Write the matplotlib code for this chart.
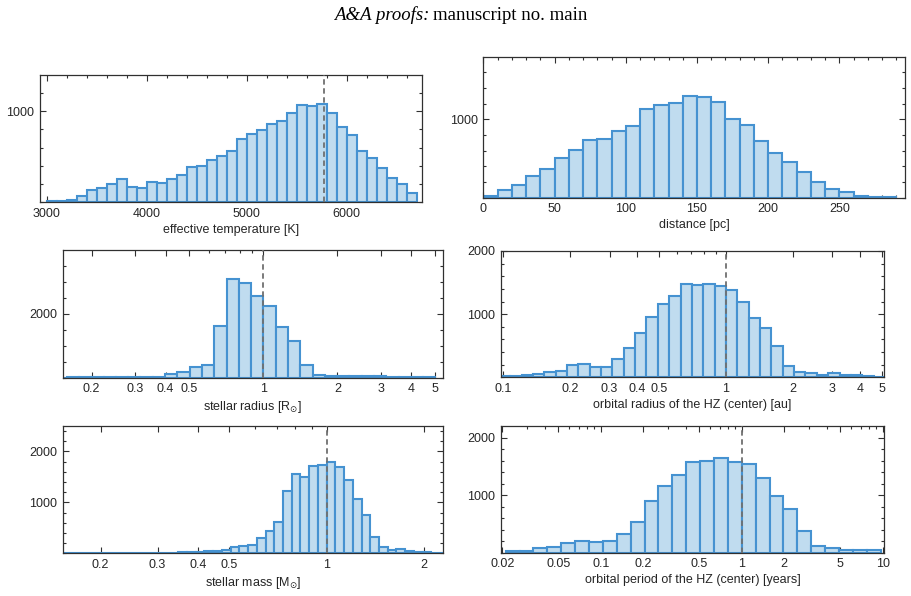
import numpy as np
import matplotlib
matplotlib.use("Agg")
import matplotlib.pyplot as plt
from matplotlib.ticker import FixedLocator, NullFormatter

plt.rcParams['font.family'] = ['Liberation Sans', 'DejaVu Sans']
plt.rcParams['mathtext.fontset'] = 'dejavusans'

# ---------------- data ----------------
# effective temperature: 100 K bins starting at 3000 K
teff_start, teff_width = 3000, 100
teff_counts = [11, 11, 22, 62, 135, 153, 200, 252, 164, 153, 219, 208, 259, 296,
               383, 398, 460, 507, 566, 693, 752, 799, 858, 894, 985, 1073, 1058,
               1084, 985, 828, 734, 566, 485, 376, 270, 200, 99]
teff_sun = 5772

# distance: 10 pc bins from 0 pc
dist_start, dist_width = 0, 10
dist_counts = [20, 94, 166, 281, 366, 511, 613, 732, 753, 855, 915, 1132, 1183,
               1209, 1294, 1281, 1221, 1000, 923, 723, 570, 460, 328, 204, 106,
               68, 26, 13, 9]

# stellar radius: log10 bins of 0.05 dex, first bin index -17
rad_k0, rad_w = -17, 0.05
rad_counts = [5, 8, 8, 8, 10, 10, 20, 25, 30, 105, 180, 326, 400, 1632, 3105,
              2968, 2547, 2242, 1590, 1158, 389, 95, 63, 63, 53, 42, 42, 32,
              21, 21, 10]

# orbital radius of HZ: log10 bins of 0.051 dex, first bin index -20
orb_k0, orb_w = -20, 0.051
orb_counts = [15, 21, 37, 53, 90, 105, 200, 216, 163, 158, 284, 458, 705, 953,
              1163, 1295, 1474, 1458, 1474, 1447, 1379, 1200, 942, 774, 500,
              174, 79, 63, 42, 63, 37, 37, 21, 11]

# stellar mass: log10 bins of 0.027 dex, first bin index -31
mass_k0, mass_w = -31, 0.027
mass_counts = [0, 0, 10, 0, 10, 10, 10, 10, 10, 0, 13, 13, 13, 13, 20, 20, 33,
               52, 52, 66, 118, 144, 170, 308, 446, 616, 1233, 1561, 1508, 1705,
               1738, 1784, 1692, 1430, 1075, 754, 328, 131, 66, 92, 46, 33, 20,
               13, 13]

# orbital period: log10 bins of 0.0985 dex, first bin index -17
per_k0, per_w = -17, 0.0985
per_counts = [35, 35, 87, 99, 174, 209, 186, 203, 325, 539, 904, 1165, 1351,
              1577, 1594, 1652, 1571, 1536, 1293, 986, 765, 383, 116, 87, 52,
              52, 41]

# tick labels
teff_ticks = [3000, 4000, 5000, 6000]
dist_ticks = [0, 50, 100, 150, 200, 250]
rad_ticks = [0.2, 0.3, 0.4, 0.5, 1, 2, 3, 4, 5]
orb_ticks = [0.1, 0.2, 0.3, 0.4, 0.5, 1, 2, 3, 4, 5]
mass_ticks = [0.2, 0.3, 0.4, 0.5, 1, 2]
per_ticks = [0.02, 0.05, 0.1, 0.2, 0.5, 1, 2, 5, 10]

FACE = '#c0dcef'
EDGE = '#4592d1'
FS = 9
TXT = '#262626'

W, H = 912, 596
fig = plt.figure(figsize=(W / 100, H / 100), dpi=100)


def add_ax(l, r, t, b):
    return fig.add_axes([l / W, 1 - b / H, (r - l) / W, (b - t) / H])


def style(ax):
    for s in ax.spines.values():
        s.set_linewidth(0.9)
        s.set_color('#303030')
    ax.tick_params(which='both', direction='in', top=True, right=True,
                   labelsize=FS, colors='#303030', labelcolor=TXT, width=0.8)
    ax.tick_params(which='major', length=4, pad=4)
    ax.tick_params(which='minor', length=2.2)


def draw_bars(ax, edges, counts):
    edges = np.asarray(edges, dtype=float)
    ax.bar(edges[:-1], counts, width=np.diff(edges), align='edge',
           color=FACE, edgecolor=EDGE, linewidth=1.5, zorder=2)


def log_edges(k0, w, n):
    return 10 ** (np.arange(k0, k0 + n + 1) * w)


def fmt(v):
    return ('%g' % v)


# ---- panel 1: effective temperature ----
ax1 = add_ax(40, 421.7, 75, 202)
e = teff_start + teff_width * np.arange(len(teff_counts) + 1)
draw_bars(ax1, e, teff_counts)
ax1.axvline(teff_sun, color='#707070', ls=(0, (3, 2)), lw=1.3, zorder=3)
ax1.set_xlim(2933, 6750)
ax1.set_ylim(0, 1400)
ax1.xaxis.set_major_locator(FixedLocator(teff_ticks))
ax1.xaxis.set_minor_locator(FixedLocator(np.arange(3000, 6800, 200)))
ax1.yaxis.set_major_locator(FixedLocator([1000]))
ax1.yaxis.set_minor_locator(FixedLocator(np.arange(0, 1400, 200)))
ax1.set_xlabel('effective temperature [K]', fontsize=FS, labelpad=3)

# ---- panel 2: distance ----
ax2 = add_ax(483.3, 905, 57.3, 197.7)
e = dist_start + dist_width * np.arange(len(dist_counts) + 1)
draw_bars(ax2, e, dist_counts)
ax2.set_xlim(0, 296)
ax2.set_ylim(0, 1790)
ax2.xaxis.set_major_locator(FixedLocator(dist_ticks))
ax2.xaxis.set_minor_locator(FixedLocator(np.arange(0, 300, 10)))
ax2.yaxis.set_major_locator(FixedLocator([1000]))
ax2.yaxis.set_minor_locator(FixedLocator(np.arange(0, 1800, 200)))
ax2.set_xlabel('distance [pc]', fontsize=FS, labelpad=3)


def log_axis(ax, ticks, lo, hi):
    ax.set_xscale('log')
    ax.set_xlim(lo, hi)
    ax.xaxis.set_major_locator(FixedLocator(ticks))
    ax.set_xticklabels([fmt(t) for t in ticks])
    minors = []
    for dec in [0.01, 0.1, 1, 10]:
        for m in range(1, 10):
            v = m * dec
            if lo <= v <= hi and not any(abs(v - t) < 1e-9 for t in ticks):
                minors.append(v)
    ax.xaxis.set_minor_locator(FixedLocator(minors))
    ax.xaxis.set_minor_formatter(NullFormatter())


# ---- panel 3: stellar radius ----
ax3 = add_ax(63, 443, 250, 377.7)
draw_bars(ax3, log_edges(rad_k0, rad_w, len(rad_counts)), rad_counts)
ax3.axvline(1, color='#707070', ls=(0, (3, 2)), lw=1.3, zorder=3)
log_axis(ax3, rad_ticks, 0.153, 5.38)
ax3.set_ylim(0, 4000)
ax3.yaxis.set_major_locator(FixedLocator([2000]))
ax3.yaxis.set_minor_locator(FixedLocator(np.arange(0, 4000, 500)))
ax3.set_xlabel(r'stellar radius [R$_{\odot}$]', fontsize=FS, labelpad=3)

# ---- panel 4: orbital radius ----
ax4 = add_ax(501, 884.3, 251, 377.3)
draw_bars(ax4, log_edges(orb_k0, orb_w, len(orb_counts)), orb_counts)
ax4.axvline(1, color='#707070', ls=(0, (3, 2)), lw=1.3, zorder=3)
log_axis(ax4, orb_ticks, 0.0977, 5.14)
ax4.set_ylim(0, 2000)
ax4.yaxis.set_major_locator(FixedLocator([1000, 2000]))
ax4.yaxis.set_minor_locator(FixedLocator(np.arange(0, 2000, 200)))
ax4.set_xlabel('orbital radius of the HZ (center) [au]', fontsize=FS, labelpad=3)

# ---- panel 5: stellar mass ----
ax5 = add_ax(63, 443, 426, 553.3)
draw_bars(ax5, log_edges(mass_k0, mass_w, len(mass_counts)), mass_counts)
ax5.axvline(1, color='#707070', ls=(0, (3, 2)), lw=1.3, zorder=3)
log_axis(ax5, mass_ticks, 0.153, 2.29)
ax5.set_ylim(0, 2500)
ax5.yaxis.set_major_locator(FixedLocator([1000, 2000]))
ax5.yaxis.set_minor_locator(FixedLocator(np.arange(0, 2600, 200)))
ax5.set_xlabel(r'stellar mass [M$_{\odot}$]', fontsize=FS, labelpad=3)

# ---- panel 6: orbital period ----
ax6 = add_ax(501, 884.3, 426, 552.7)
draw_bars(ax6, log_edges(per_k0, per_w, len(per_counts)), per_counts)
ax6.axvline(1, color='#707070', ls=(0, (3, 2)), lw=1.3, zorder=3)
log_axis(ax6, per_ticks, 0.0196, 10.26)
ax6.set_ylim(0, 2200)
ax6.yaxis.set_major_locator(FixedLocator([1000, 2000]))
ax6.yaxis.set_minor_locator(FixedLocator(np.arange(0, 2200, 200)))
ax6.set_xlabel('orbital period of the HZ (center) [years]', fontsize=FS, labelpad=3)

for ax in [ax1, ax2, ax3, ax4, ax5, ax6]:
    style(ax)
    ax.xaxis.label.set_color(TXT)

# header
fig.text(429 / W, 1 - 15 / H, 'A&A proofs:', ha='right', va='center',
         family='Liberation Serif', style='italic', fontsize=13.5)
fig.text(433 / W, 1 - 15 / H, 'manuscript no. main', ha='left', va='center',
         family='Liberation Serif', fontsize=13.5)

fig.savefig('out.png', dpi=100)
